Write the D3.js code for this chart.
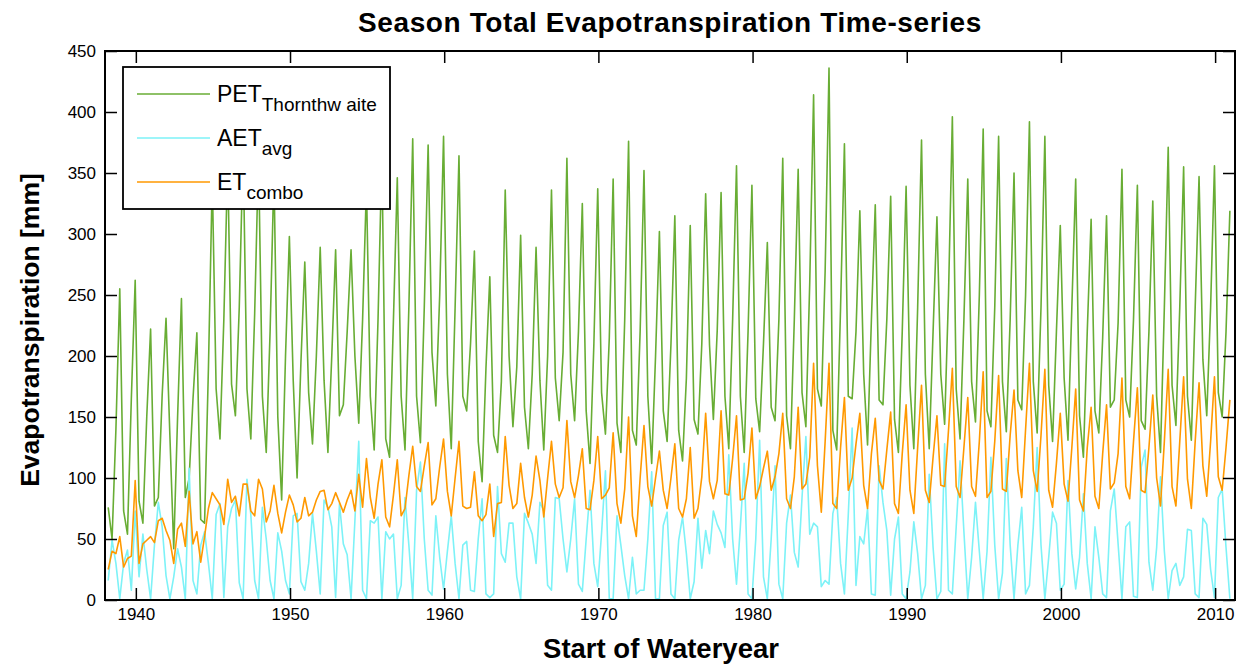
<!DOCTYPE html>
<meta charset="utf-8">
<html>
<head>
<script src="https://cdn.jsdelivr.net/npm/d3@7"></script>
<style>
  body { margin: 0; background: #fff; }
  text { font-family: "Liberation Sans", Arial, Helvetica, sans-serif; fill: #000; }
  .series { fill: none; stroke-width: 1.6px; stroke-linejoin: round; }
</style>
</head>
<body>
<script>
// seasons of each water year: autumn, winter, spring, summer
var firstYear = 1938;
var seasonFrac = [0.208, 0.458, 0.708, 0.958];
var xTicks = [1940, 1950, 1960, 1970, 1980, 1990, 2000, 2010];
var yTicks = [0, 50, 100, 150, 200, 250, 300, 350, 400, 450];
var seriesNames = ["Thornthw aite", "avg", "combo"];

// PET Thornthwaite, 4 values per water year 1938-2010
var pet = [
  76, 50, 140, 255,   73, 54, 165, 262,   81, 63, 150, 222,   77, 84, 168, 231,
  135, 42, 150, 247,  84, 100, 165, 219,  66, 63, 190, 345,   173, 132, 230, 360,
  177, 151, 240, 370, 173, 132, 235, 365, 167, 121, 220, 350, 150, 82, 200, 298,
  180, 100, 195, 277, 170, 128, 200, 289, 180, 121, 200, 287, 151, 160, 220, 287,
  200, 145, 230, 340, 167, 123, 230, 365, 132, 117, 230, 346, 167, 123, 240, 378,
  167, 129, 240, 373, 203, 159, 250, 380, 185, 124, 240, 364, 167, 155, 210, 286,
  130, 97, 190, 265,  135, 121, 179, 336, 200, 142, 191, 299, 158, 124, 185, 289,
  180, 123, 200, 336, 182, 147, 203, 362, 185, 147, 220, 325, 155, 112, 210, 337,
  170, 136, 215, 345, 145, 121, 230, 376, 139, 127, 220, 352, 167, 112, 200, 302,
  155, 130, 210, 315, 139, 114, 182, 307, 148, 136, 210, 333, 209, 148, 221, 334,
  167, 124, 230, 356, 167, 121, 220, 340, 165, 138, 210, 293, 158, 147, 230, 362,
  151, 124, 230, 353, 170, 142, 260, 414, 173, 159, 270, 436, 139, 123, 240, 374,
  167, 165, 220, 319, 185, 127, 230, 324, 164, 160, 230, 331, 148, 121, 220, 339,
  176, 124, 240, 377, 185, 124, 220, 314, 185, 144, 250, 396, 173, 132, 230, 345,
  179, 146, 250, 386, 155, 142, 240, 380, 179, 138, 230, 350, 164, 156, 250, 392,
  179, 137, 240, 380, 176, 130, 220, 307, 182, 131, 240, 345, 151, 117, 220, 312,
  155, 137, 215, 315, 158, 164, 227, 353, 164, 150, 230, 340, 147, 140, 220, 327,
  167, 121, 240, 371, 176, 143, 240, 355, 167, 131, 240, 347, 197, 151, 240, 356,
  170, 150, 220, 319
];

// AET average
var aet = [
  16, 49, 30, 1,    30, 41, 8, 73,    19, 54, 25, 1,    45, 80, 60, 20,
  1, 19, 42, 27,    1, 108, 16, 5,    45, 56, 30, 1,    70, 79, 2, 60,
  75, 82, 14, 1,    99, 70, 16, 1,    76, 50, 16, 1,    55, 40, 16, 5,
  69, 71, 15, 8,    30, 71, 40, 5,    82, 76, 60, 2,    79, 46, 37, 1,
  65, 130, 8, 1,    65, 63, 68, 1,    56, 50, 54, 1,    12, 84, 45, 1,
  90, 113, 50, 8,   4, 69, 35, 9,     40, 69, 30, 1,    45, 48, 8, 7,
  50, 83, 5, 2,     5, 93, 38, 31,    63, 63, 19, 1,    71, 63, 54, 30,
  80, 73, 12, 8,    84, 83, 50, 23,   50, 83, 13, 7,    50, 90, 30, 11,
  55, 106, 1, 1,    69, 45, 20, 1,    35, 5, 8, 8,      50, 105, 1, 1,
  61, 72, 5, 1,     49, 68, 38, 1,    15, 67, 26, 57,   38, 73, 62, 55,
  43, 119, 50, 13,  60, 112, 5, 1,    50, 131, 19, 1,   50, 110, 13, 1,
  63, 86, 39, 27,   84, 134, 54, 63,  60, 11, 16, 13,   71, 84, 30, 5,
  70, 141, 12, 52,  46, 75, 5, 4,     110, 80, 57, 4,   50, 68, 5, 1,
  23, 64, 38, 1,    12, 103, 43, 1,   7, 128, 8, 5,     60, 114, 56, 1,
  35, 80, 40, 1,    40, 117, 45, 1,   22, 116, 45, 1,   45, 76, 5, 12,
  60, 125, 45, 1,   35, 72, 63, 8,    13, 98, 38, 9,    35, 87, 30, 1,
  60, 35, 5, 2,     73, 91, 46, 1,    60, 64, 3, 2,     109, 123, 31, 8,
  43, 101, 40, 1,   24, 30, 12, 19,   58, 57, 5, 2,     67, 62, 25, 2,
  84, 91, 43, 1
];

// ET combo
var et = [
  25, 40, 38, 52,   27, 34, 36, 98,   30, 46, 49, 52,   47, 65, 67, 57,
  49, 30, 58, 63,   44, 89, 46, 56,   31, 52, 75, 88,   83, 78, 62, 99,
  80, 85, 69, 95,   95, 73, 69, 99,   91, 64, 73, 94,   71, 55, 72, 86,
  78, 64, 67, 84,   69, 72, 82, 89,   90, 74, 79, 88,   80, 72, 82, 90,
  73, 103, 76, 116, 84, 67, 95, 115,  68, 60, 86, 115,  69, 75, 102, 126,
  93, 89, 110, 129, 78, 83, 109, 132, 89, 69, 100, 130, 77, 75, 76, 105,
  69, 65, 70, 95,   52, 79, 80, 134,  94, 75, 79, 112,  84, 68, 86, 118,
  98, 68, 100, 130, 95, 84, 92, 147,  97, 84, 102, 124, 75, 74, 98, 134,
  83, 86, 92, 137,  79, 63, 91, 150,  69, 52, 100, 143, 93, 77, 100, 122,
  90, 75, 100, 128, 75, 68, 83, 125,  67, 75, 101, 153, 97, 83, 98, 155,
  87, 86, 116, 151, 82, 83, 104, 141, 83, 93, 108, 122, 90, 101, 120, 153,
  83, 75, 101, 158, 91, 95, 117, 194, 110, 72, 130, 194, 79, 75, 125, 166,
  90, 100, 128, 153, 94, 75, 120, 149, 98, 91, 123, 154, 79, 71, 120, 160,
  90, 71, 125, 176, 90, 80, 117, 151, 94, 93, 139, 190, 93, 84, 125, 166,
  93, 85, 130, 187, 84, 89, 130, 184, 91, 89, 135, 172, 106, 84, 140, 194,
  106, 89, 135, 189, 90, 76, 112, 153, 95, 81, 125, 173, 82, 73, 125, 158,
  85, 75, 120, 160, 91, 96, 120, 182, 93, 83, 130, 174, 90, 88, 125, 168,
  100, 77, 130, 189, 93, 77, 130, 183, 99, 75, 130, 178, 110, 85, 130, 183,
  101, 90, 125, 164
];

var width = 1248, height = 665;
var plotL = 105, plotR = 1235, plotT = 51, plotB = 600;

var svg = d3.select("body").append("svg")
    .attr("width", width)
    .attr("height", height);

var x = d3.scaleLinear().domain([1938, 2011.29]).range([plotL, plotR]);
var y = d3.scaleLinear().domain([0, 450]).range([plotB, plotT]);

function toPoints(vals) {
  return vals.map(function(v, i) {
    return { t: firstYear + Math.floor(i / 4) + seasonFrac[i % 4], v: v };
  });
}

var line = d3.line()
    .x(function(d) { return x(d.t); })
    .y(function(d) { return y(d.v); });

svg.append("clipPath").attr("id", "plot")
  .append("rect")
    .attr("x", plotL).attr("y", plotT)
    .attr("width", plotR - plotL).attr("height", plotB - plotT);

var series = [
  { vals: pet, color: "#68ad34" },
  { vals: aet, color: "#7df2f7" },
  { vals: et,  color: "#ff9900" }
];

var plot = svg.append("g").attr("clip-path", "url(#plot)");
series.forEach(function(s) {
  plot.append("path")
      .attr("class", "series")
      .attr("d", line(toPoints(s.vals)))
      .style("stroke", s.color);
});

// axes, MATLAB style: ticks inside on all four sides
function styleAxis(g) {
  g.select(".domain").remove();
  g.selectAll(".tick line").attr("stroke", "#000").attr("stroke-width", 1.5);
  g.selectAll(".tick text").style("font-size", "17px").attr("fill", "#000");
}

var yearFmt = d3.format("d");

svg.append("g")
    .attr("transform", "translate(0," + plotB + ")")
    .call(d3.axisBottom(x).tickValues(xTicks).tickFormat(yearFmt)
      .tickSizeInner(-12).tickSizeOuter(0).tickPadding(8))
    .call(styleAxis);

svg.append("g")
    .attr("transform", "translate(0," + plotT + ")")
    .call(d3.axisTop(x).tickValues(xTicks).tickSizeInner(-12).tickSizeOuter(0).tickFormat(""))
    .call(styleAxis);

svg.append("g")
    .attr("transform", "translate(" + plotL + ",0)")
    .call(d3.axisLeft(y).tickValues(yTicks).tickFormat(yearFmt)
      .tickSizeInner(-12).tickSizeOuter(0).tickPadding(9))
    .call(styleAxis);

svg.append("g")
    .attr("transform", "translate(" + plotR + ",0)")
    .call(d3.axisRight(y).tickValues(yTicks).tickSizeInner(-12).tickSizeOuter(0).tickFormat(""))
    .call(styleAxis);

svg.append("rect")
    .attr("x", plotL).attr("y", plotT)
    .attr("width", plotR - plotL).attr("height", plotB - plotT)
    .attr("fill", "none").attr("stroke", "#000").attr("stroke-width", 2);

// titles
svg.append("text")
    .attr("x", 670).attr("y", 32)
    .attr("text-anchor", "middle")
    .style("font-size", "28px").style("font-weight", "bold")
    .style("letter-spacing", "0.6px")
    .text("Season Total Evapotranspiration Time-series");

svg.append("text")
    .attr("x", 661).attr("y", 658)
    .attr("text-anchor", "middle")
    .style("font-size", "27.5px").style("font-weight", "bold")
    .text("Start of Wateryear");

svg.append("text")
    .attr("transform", "translate(39,330) rotate(-90)")
    .attr("text-anchor", "middle")
    .style("font-size", "26.5px").style("font-weight", "bold")
    .text("Evapotranspiration [mm]");

// legend
var legend = svg.append("g");
legend.append("rect")
    .attr("x", 123).attr("y", 67).attr("width", 267).attr("height", 142)
    .attr("fill", "#fff").attr("stroke", "#000").attr("stroke-width", 1.8);

var labels = ["PET", "AET", "ET"];
series.forEach(function(s, i) {
  var ly = 94 + i * 44;
  legend.append("line")
      .attr("x1", 137).attr("x2", 210)
      .attr("y1", ly).attr("y2", ly)
      .attr("stroke", s.color).attr("stroke-width", 1.6);
  var t = legend.append("text")
      .attr("x", 217).attr("y", ly + 8)
      .style("font-size", "23px");
  t.append("tspan").text(labels[i]);
  t.append("tspan")
      .attr("dy", 9)
      .style("font-size", "19px")
      .text(seriesNames[i]);
});
</script>
</body>
</html>
